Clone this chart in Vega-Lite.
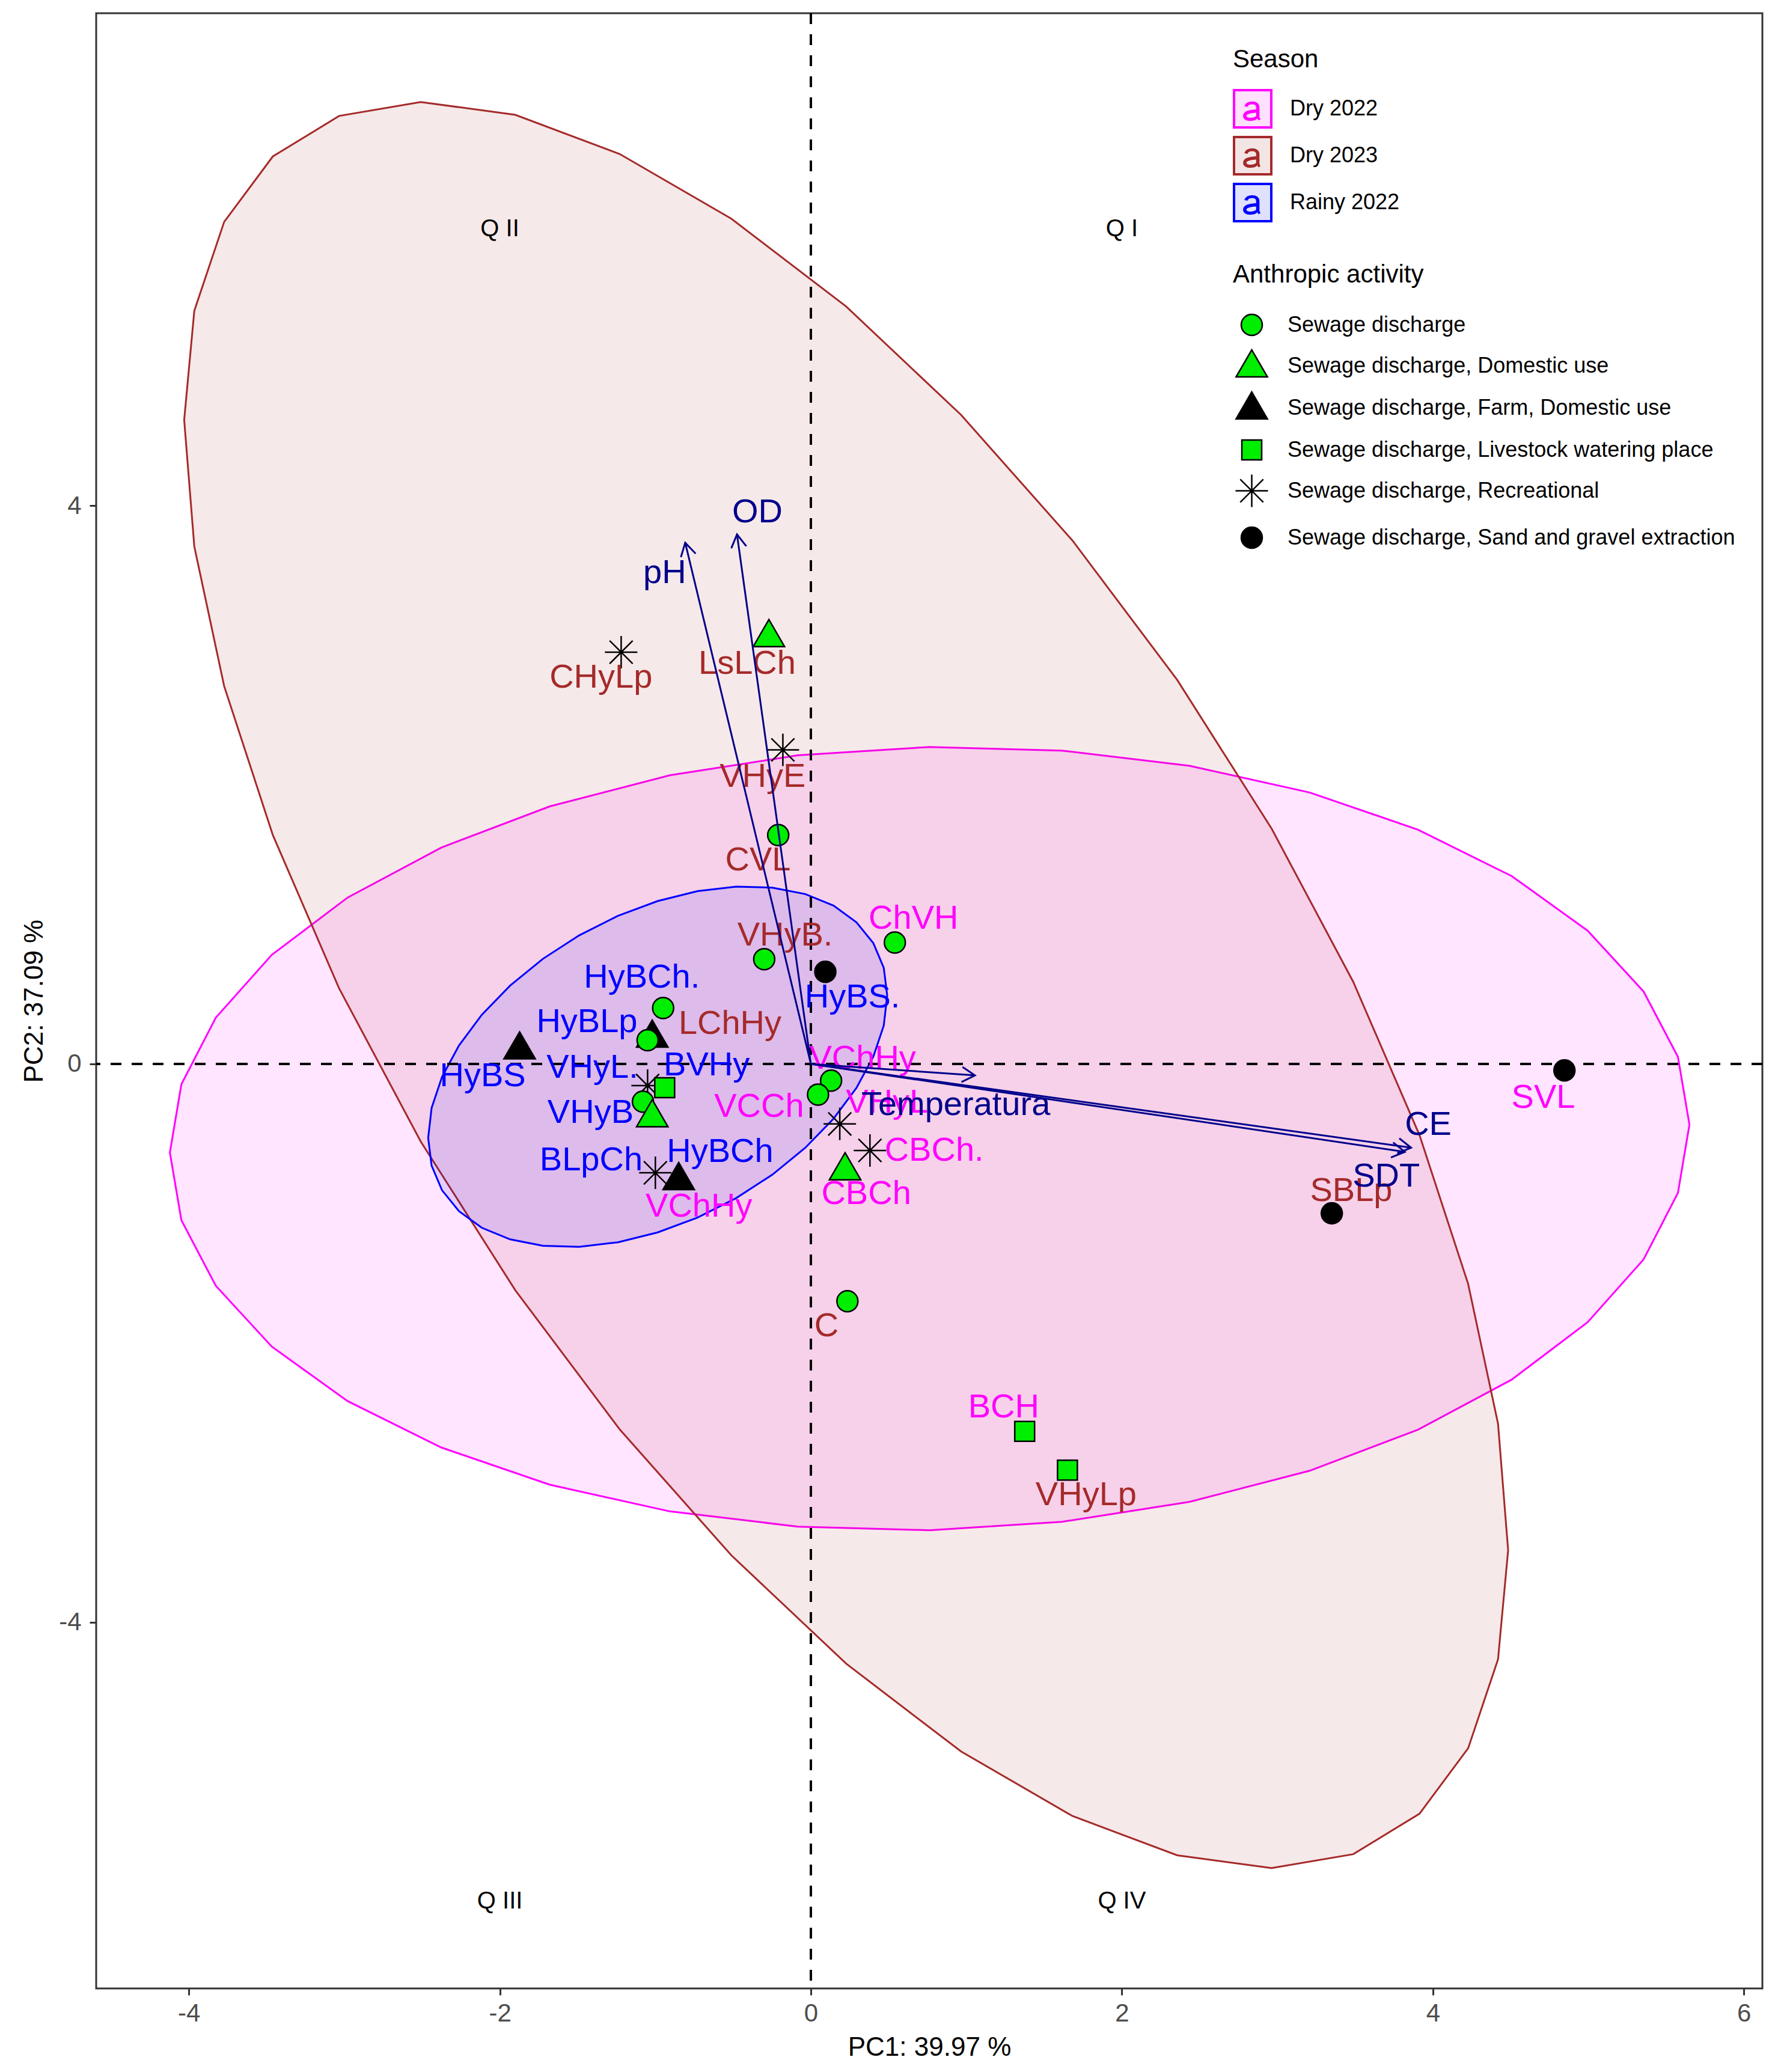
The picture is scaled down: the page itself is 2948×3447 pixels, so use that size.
{
  "$schema": "https://vega.github.io/schema/vega-lite/v6.json",
  "autosize": {"type": "none"},
  "width": 2772,
  "height": 3286,
  "padding": {"left": 160, "top": 22, "right": 16, "bottom": 139},
  "background": "white",
  "datasets": {
    "ellipses": [
      {"season":"Dry 2022","i":0,"x":5.650,"y":-0.435},{"season":"Dry 2022","i":1,"x":5.576,"y":0.050},{"season":"Dry 2022","i":2,"x":5.355,"y":0.519},{"season":"Dry 2022","i":3,"x":4.995,"y":0.955},{"season":"Dry 2022","i":4,"x":4.507,"y":1.346},{"season":"Dry 2022","i":5,"x":3.905,"y":1.678},{"season":"Dry 2022","i":6,"x":3.207,"y":1.945},{"season":"Dry 2022","i":7,"x":2.435,"y":2.136},{"season":"Dry 2022","i":8,"x":1.612,"y":2.245},{"season":"Dry 2022","i":9,"x":0.764,"y":2.271},{"season":"Dry 2022","i":10,"x":-0.084,"y":2.211},{"season":"Dry 2022","i":11,"x":-0.907,"y":2.068},{"season":"Dry 2022","i":12,"x":-1.679,"y":1.845},{"season":"Dry 2022","i":13,"x":-2.377,"y":1.550},{"season":"Dry 2022","i":14,"x":-2.979,"y":1.192},{"season":"Dry 2022","i":15,"x":-3.467,"y":0.781},{"season":"Dry 2022","i":16,"x":-3.827,"y":0.331},{"season":"Dry 2022","i":17,"x":-4.048,"y":-0.146},{"season":"Dry 2022","i":18,"x":-4.122,"y":-0.635},{"season":"Dry 2022","i":19,"x":-4.048,"y":-1.120},{"season":"Dry 2022","i":20,"x":-3.827,"y":-1.589},{"season":"Dry 2022","i":21,"x":-3.467,"y":-2.025},{"season":"Dry 2022","i":22,"x":-2.979,"y":-2.416},{"season":"Dry 2022","i":23,"x":-2.377,"y":-2.748},{"season":"Dry 2022","i":24,"x":-1.679,"y":-3.015},{"season":"Dry 2022","i":25,"x":-0.907,"y":-3.206},{"season":"Dry 2022","i":26,"x":-0.084,"y":-3.315},{"season":"Dry 2022","i":27,"x":0.764,"y":-3.341},{"season":"Dry 2022","i":28,"x":1.612,"y":-3.281},{"season":"Dry 2022","i":29,"x":2.435,"y":-3.138},{"season":"Dry 2022","i":30,"x":3.207,"y":-2.915},{"season":"Dry 2022","i":31,"x":3.905,"y":-2.620},{"season":"Dry 2022","i":32,"x":4.507,"y":-2.262},{"season":"Dry 2022","i":33,"x":4.995,"y":-1.851},{"season":"Dry 2022","i":34,"x":5.355,"y":-1.401},{"season":"Dry 2022","i":35,"x":5.576,"y":-0.924},{"season":"Dry 2022","i":36,"x":5.650,"y":-0.435},
      {"season":"Dry 2023","i":0,"x":4.484,"y":-3.484},{"season":"Dry 2023","i":1,"x":4.419,"y":-2.578},{"season":"Dry 2023","i":2,"x":4.227,"y":-1.577},{"season":"Dry 2023","i":3,"x":3.914,"y":-0.510},{"season":"Dry 2023","i":4,"x":3.488,"y":0.588},{"season":"Dry 2023","i":5,"x":2.963,"y":1.686},{"season":"Dry 2023","i":6,"x":2.356,"y":2.751},{"season":"Dry 2023","i":7,"x":1.683,"y":3.749},{"season":"Dry 2023","i":8,"x":0.966,"y":4.650},{"season":"Dry 2023","i":9,"x":0.227,"y":5.427},{"season":"Dry 2023","i":10,"x":-0.512,"y":6.056},{"season":"Dry 2023","i":11,"x":-1.229,"y":6.519},{"season":"Dry 2023","i":12,"x":-1.901,"y":6.800},{"season":"Dry 2023","i":13,"x":-2.509,"y":6.892},{"season":"Dry 2023","i":14,"x":-3.034,"y":6.792},{"season":"Dry 2023","i":15,"x":-3.460,"y":6.502},{"season":"Dry 2023","i":16,"x":-3.773,"y":6.033},{"season":"Dry 2023","i":17,"x":-3.965,"y":5.396},{"season":"Dry 2023","i":18,"x":-4.030,"y":4.614},{"season":"Dry 2023","i":19,"x":-3.965,"y":3.708},{"season":"Dry 2023","i":20,"x":-3.773,"y":2.707},{"season":"Dry 2023","i":21,"x":-3.460,"y":1.640},{"season":"Dry 2023","i":22,"x":-3.034,"y":0.542},{"season":"Dry 2023","i":23,"x":-2.509,"y":-0.556},{"season":"Dry 2023","i":24,"x":-1.901,"y":-1.621},{"season":"Dry 2023","i":25,"x":-1.229,"y":-2.619},{"season":"Dry 2023","i":26,"x":-0.512,"y":-3.520},{"season":"Dry 2023","i":27,"x":0.227,"y":-4.297},{"season":"Dry 2023","i":28,"x":0.966,"y":-4.926},{"season":"Dry 2023","i":29,"x":1.683,"y":-5.389},{"season":"Dry 2023","i":30,"x":2.356,"y":-5.670},{"season":"Dry 2023","i":31,"x":2.963,"y":-5.762},{"season":"Dry 2023","i":32,"x":3.488,"y":-5.662},{"season":"Dry 2023","i":33,"x":3.914,"y":-5.372},{"season":"Dry 2023","i":34,"x":4.227,"y":-4.903},{"season":"Dry 2023","i":35,"x":4.419,"y":-4.266},{"season":"Dry 2023","i":36,"x":4.484,"y":-3.484},
      {"season":"Rainy 2022","i":0,"x":0.491,"y":0.490},{"season":"Rainy 2022","i":1,"x":0.469,"y":0.688},{"season":"Rainy 2022","i":2,"x":0.402,"y":0.865},{"season":"Rainy 2022","i":3,"x":0.293,"y":1.015},{"season":"Rainy 2022","i":4,"x":0.146,"y":1.134},{"season":"Rainy 2022","i":5,"x":-0.036,"y":1.217},{"season":"Rainy 2022","i":6,"x":-0.247,"y":1.263},{"season":"Rainy 2022","i":7,"x":-0.480,"y":1.270},{"season":"Rainy 2022","i":8,"x":-0.729,"y":1.238},{"season":"Rainy 2022","i":9,"x":-0.985,"y":1.167},{"season":"Rainy 2022","i":10,"x":-1.241,"y":1.061},{"season":"Rainy 2022","i":11,"x":-1.490,"y":0.921},{"season":"Rainy 2022","i":12,"x":-1.723,"y":0.753},{"season":"Rainy 2022","i":13,"x":-1.934,"y":0.561},{"season":"Rainy 2022","i":14,"x":-2.116,"y":0.352},{"season":"Rainy 2022","i":15,"x":-2.263,"y":0.132},{"season":"Rainy 2022","i":16,"x":-2.372,"y":-0.093},{"season":"Rainy 2022","i":17,"x":-2.439,"y":-0.316},{"season":"Rainy 2022","i":18,"x":-2.461,"y":-0.530},{"season":"Rainy 2022","i":19,"x":-2.439,"y":-0.728},{"season":"Rainy 2022","i":20,"x":-2.372,"y":-0.905},{"season":"Rainy 2022","i":21,"x":-2.263,"y":-1.055},{"season":"Rainy 2022","i":22,"x":-2.116,"y":-1.174},{"season":"Rainy 2022","i":23,"x":-1.934,"y":-1.257},{"season":"Rainy 2022","i":24,"x":-1.723,"y":-1.303},{"season":"Rainy 2022","i":25,"x":-1.490,"y":-1.310},{"season":"Rainy 2022","i":26,"x":-1.241,"y":-1.278},{"season":"Rainy 2022","i":27,"x":-0.985,"y":-1.207},{"season":"Rainy 2022","i":28,"x":-0.729,"y":-1.101},{"season":"Rainy 2022","i":29,"x":-0.480,"y":-0.961},{"season":"Rainy 2022","i":30,"x":-0.247,"y":-0.793},{"season":"Rainy 2022","i":31,"x":-0.036,"y":-0.601},{"season":"Rainy 2022","i":32,"x":0.146,"y":-0.392},{"season":"Rainy 2022","i":33,"x":0.293,"y":-0.172},{"season":"Rainy 2022","i":34,"x":0.402,"y":0.053},{"season":"Rainy 2022","i":35,"x":0.469,"y":0.276},{"season":"Rainy 2022","i":36,"x":0.491,"y":0.490}
    ],
    "samples": [
      {"season":"Dry 2023","activity":"Sewage discharge, Recreational","lab":"CHyLp","x":-1.22,"y":2.95,"lx":-1.35,"ly":2.77},
      {"season":"Dry 2023","activity":"Sewage discharge, Domestic use","lab":"LsLCh","x":-0.27,"y":3.07,"lx":-0.41,"ly":2.87},
      {"season":"Dry 2023","activity":"Sewage discharge, Recreational","lab":"VHyE","x":-0.18,"y":2.25,"lx":-0.31,"ly":2.06},
      {"season":"Dry 2023","activity":"Sewage discharge","lab":"CVL","x":-0.21,"y":1.64,"lx":-0.34,"ly":1.46},
      {"season":"Dry 2023","activity":"Sewage discharge","lab":"VHyB.","x":-0.30,"y":0.75,"lx":-0.166,"ly":0.92},
      {"season":"Dry 2023","activity":"Sewage discharge, Farm, Domestic use","lab":"LChHy","x":-1.02,"y":0.20,"lx":-0.52,"ly":0.29},
      {"season":"Dry 2023","activity":"Sewage discharge, Sand and gravel extraction","lab":"SBLp","x":3.35,"y":-1.07,"lx":3.475,"ly":-0.91},
      {"season":"Dry 2023","activity":"Sewage discharge","lab":"C","x":0.235,"y":-1.70,"lx":0.10,"ly":-1.88},
      {"season":"Dry 2023","activity":"Sewage discharge, Livestock watering place","lab":"VHyLp","x":1.65,"y":-2.91,"lx":1.77,"ly":-3.09},
      {"season":"Dry 2022","activity":"Sewage discharge, Sand and gravel extraction","lab":"SVL","x":4.846,"y":-0.047,"lx":4.71,"ly":-0.24},
      {"season":"Dry 2022","activity":"Sewage discharge","lab":"ChVH","x":0.54,"y":0.87,"lx":0.66,"ly":1.04},
      {"season":"Dry 2022","activity":"Sewage discharge","lab":"VChHy","x":0.13,"y":-0.12,"lx":0.333,"ly":0.04},
      {"season":"Dry 2022","activity":"Sewage discharge","lab":"VCCh","x":0.046,"y":-0.22,"lx":-0.333,"ly":-0.306},
      {"season":"Dry 2022","activity":"Sewage discharge, Recreational","lab":"VHyL","x":0.186,"y":-0.43,"lx":0.49,"ly":-0.276},
      {"season":"Dry 2022","activity":"Sewage discharge, Recreational","lab":"CBCh.","x":0.38,"y":-0.62,"lx":0.793,"ly":-0.62},
      {"season":"Dry 2022","activity":"Sewage discharge, Domestic use","lab":"CBCh","x":0.22,"y":-0.75,"lx":0.356,"ly":-0.93},
      {"season":"Dry 2022","activity":"Sewage discharge, Farm, Domestic use","lab":"VChHy","x":-0.85,"y":-0.82,"lx":-0.72,"ly":-1.02},
      {"season":"Dry 2022","activity":"Sewage discharge, Livestock watering place","lab":"BCH","x":1.375,"y":-2.633,"lx":1.24,"ly":-2.46},
      {"season":"Rainy 2022","activity":"Sewage discharge, Farm, Domestic use","lab":"HyBS","x":-1.873,"y":0.116,"lx":-2.11,"ly":-0.086},
      {"season":"Rainy 2022","activity":"Sewage discharge","lab":"HyBCh.","x":-0.95,"y":0.40,"lx":-1.087,"ly":0.62},
      {"season":"Rainy 2022","activity":"Sewage discharge","lab":"HyBLp","x":-1.05,"y":0.17,"lx":-1.44,"ly":0.30},
      {"season":"Rainy 2022","activity":"Sewage discharge, Sand and gravel extraction","lab":"HyBS.","x":0.093,"y":0.66,"lx":0.267,"ly":0.478},
      {"season":"Rainy 2022","activity":"Sewage discharge, Recreational","lab":"VHyL.","x":-1.05,"y":-0.155,"lx":-1.405,"ly":-0.026},
      {"season":"Rainy 2022","activity":"Sewage discharge, Livestock watering place","lab":"BVHy","x":-0.94,"y":-0.17,"lx":-0.67,"ly":-0.01},
      {"season":"Rainy 2022","activity":"Sewage discharge","lab":"VHyB","x":-1.08,"y":-0.27,"lx":-1.417,"ly":-0.35},
      {"season":"Rainy 2022","activity":"Sewage discharge, Domestic use","lab":"HyBCh","x":-1.02,"y":-0.37,"lx":-0.584,"ly":-0.63},
      {"season":"Rainy 2022","activity":"Sewage discharge, Recreational","lab":"BLpCh","x":-1.0,"y":-0.78,"lx":-1.413,"ly":-0.69}
    ],
    "vars": [
      {"var":"pH","x":-0.808,"y":3.734,"lx":-0.94,"ly":3.52},
      {"var":"OD","x":-0.475,"y":3.794,"lx":-0.344,"ly":3.953},
      {"var":"Temperatura","x":1.055,"y":-0.082,"lx":0.932,"ly":-0.293},
      {"var":"CE","x":3.86,"y":-0.60,"lx":3.97,"ly":-0.436},
      {"var":"SDT","x":3.82,"y":-0.63,"lx":3.70,"ly":-0.805}
    ],
    "quadrants": [
      {"q":"Q II","x":-2.0,"y":5.98},
      {"q":"Q I","x":2.0,"y":5.98},
      {"q":"Q III","x":-2.0,"y":-6.0},
      {"q":"Q IV","x":2.0,"y":-6.0}
    ],
    "origin": [{"x": 0, "y": 0}]
  },
  "layer": [
    {
      "data": {"name": "ellipses"},
      "mark": {"type": "line", "strokeWidth": 3, "fillOpacity": 0.1, "strokeOpacity": 1},
      "encoding": {
        "x": {"field": "x", "type": "quantitative",
              "scale": {"domain": [-4.596, 6.119], "nice": false, "zero": false},
              "axis": {"title": "PC1: 39.97 %", "values": [-4, -2, 0, 2, 4, 6], "labelExpr": "'' + datum.value", "titlePadding": 14}},
        "y": {"field": "y", "type": "quantitative",
              "scale": {"domain": [-6.624, 7.528], "nice": false, "zero": false},
              "axis": {"title": "PC2: 37.09 %", "values": [-4, 0, 4], "labelExpr": "'' + datum.value", "titlePadding": 18, "labelPadding": 14}},
        "order": {"field": "i", "type": "quantitative"},
        "fill": {"field": "season", "type": "nominal",
                 "scale": {"domain": ["Dry 2022", "Dry 2023", "Rainy 2022"], "range": ["#FF00FF", "#A52A2A", "#0000FF"]},
                 "legend": {"title": "Season", "orient": "none", "legendX": 1891, "legendY": 57,
                            "symbolType": "M-1,-1L1,-1L1,1L-1,1Z M-0.38,-0.12C-0.32,-0.4 0.3,-0.42 0.3,-0.08L0.3,0.45L0.36,0.6M0.3,0.08C0,0.12 -0.45,0.12 -0.45,0.38C-0.45,0.66 0.1,0.66 0.3,0.4M-0.33,-0.12C-0.27,-0.36 0.25,-0.38 0.25,-0.08L0.25,0.45M0.25,0.13C0,0.16 -0.4,0.16 -0.4,0.38C-0.4,0.6 0.1,0.6 0.25,0.4",
                            "symbolSize": 3844, "rowPadding": 0, "titlePadding": 27, "labelOffset": 29,
                            "labelLimit": 1000, "titleLimit": 1000,
                            "encode": {"symbols": {"update": {
                              "fill": {"scale": "fill", "field": "value"},
                              "fillOpacity": {"value": 0.12},
                              "stroke": {"scale": "fill", "field": "value"},
                              "strokeWidth": {"value": 4},
                              "opacity": {"value": 1}
                            }}}}},
        "stroke": {"field": "season", "type": "nominal",
                   "scale": {"domain": ["Dry 2022", "Dry 2023", "Rainy 2022"], "range": ["#FF00FF", "#A52A2A", "#0000FF"]},
                   "legend": null}
      }
    },
    {
      "data": {"name": "origin"},
      "mark": {"type": "rule", "color": "black", "strokeWidth": 4, "strokeDash": [18, 17]},
      "encoding": {"y": {"field": "y", "type": "quantitative"}}
    },
    {
      "data": {"name": "origin"},
      "mark": {"type": "rule", "color": "black", "strokeWidth": 4, "strokeDash": [18, 17]},
      "encoding": {"x": {"field": "x", "type": "quantitative"}}
    },
    {
      "data": {"name": "samples"},
      "mark": {"type": "point", "filled": true, "size": 3600, "stroke": "black", "strokeWidth": 2.5, "opacity": 1},
      "encoding": {
        "x": {"field": "x", "type": "quantitative"},
        "y": {"field": "y", "type": "quantitative"},
        "color": {"field": "activity", "type": "nominal",
                  "scale": {"domain": ["Sewage discharge", "Sewage discharge, Domestic use", "Sewage discharge, Farm, Domestic use", "Sewage discharge, Livestock watering place", "Sewage discharge, Recreational", "Sewage discharge, Sand and gravel extraction"],
                            "range": ["#00EE00", "#00EE00", "#000000", "#00EE00", "#000000", "#000000"]},
                  "legend": {"title": "Anthropic activity", "orient": "none", "legendX": 1891, "legendY": 415, "symbolSize": 3600, "rowPadding": 14, "titlePadding": 30, "labelOffset": 28, "labelLimit": 1000, "titleLimit": 1000, "symbolStrokeColor": "black", "symbolStrokeWidth": 2.5, "symbolOpacity": 1,
                             "encode": {"symbols": {"update": {"stroke": {"value": "black"}, "strokeWidth": {"value": 2.5}, "opacity": {"value": 1}}}}}},
        "shape": {"field": "activity", "type": "nominal",
                  "scale": {"domain": ["Sewage discharge", "Sewage discharge, Domestic use", "Sewage discharge, Farm, Domestic use", "Sewage discharge, Livestock watering place", "Sewage discharge, Recreational", "Sewage discharge, Sand and gravel extraction"],
                            "range": ["M-0.583,0A0.583,0.583,0,1,0,0.583,0A0.583,0.583,0,1,0,-0.583,0Z", "M0,-0.88L0.87,0.62L-0.87,0.62Z", "M0,-0.88L0.87,0.62L-0.87,0.62Z", "M-0.55,-0.55L0.55,-0.55L0.55,0.55L-0.55,0.55Z", "M-0.9,0L0.9,0M0,-0.9L0,0.9M-0.64,-0.64L0.64,0.64M-0.64,0.64L0.64,-0.64", "M-0.583,0A0.583,0.583,0,1,0,0.583,0A0.583,0.583,0,1,0,-0.583,0Z"]},
                  "legend": {"title": "Anthropic activity", "orient": "none", "legendX": 1891, "legendY": 415, "symbolSize": 3600, "rowPadding": 14, "titlePadding": 30, "labelOffset": 28, "labelLimit": 1000, "titleLimit": 1000, "symbolStrokeColor": "black", "symbolStrokeWidth": 2.5, "symbolOpacity": 1,
                             "encode": {"symbols": {"update": {"stroke": {"value": "black"}, "strokeWidth": {"value": 2.5}, "opacity": {"value": 1}}}}}}
      }
    },
    {
      "data": {"name": "samples"},
      "mark": {"type": "text", "fontSize": 56, "font": "Liberation Sans", "align": "center", "baseline": "middle"},
      "encoding": {
        "x": {"field": "lx", "type": "quantitative"},
        "y": {"field": "ly", "type": "quantitative"},
        "text": {"field": "lab", "type": "nominal"},
        "fill": {"field": "season", "type": "nominal"}
      }
    },
    {
      "data": {"name": "vars"},
      "transform": [{"calculate": "0", "as": "x0"}, {"calculate": "0", "as": "y0"}],
      "mark": {"type": "rule", "color": "#00008B", "strokeWidth": 3},
      "encoding": {
        "x": {"field": "x0", "type": "quantitative"},
        "y": {"field": "y0", "type": "quantitative"},
        "x2": {"field": "x"},
        "y2": {"field": "y"}
      }
    },
    {
      "data": {"name": "vars"},
      "transform": [{"calculate": "atan2(datum.x * 258.7, datum.y * 232.2) * 180 / PI", "as": "ang"}],
      "mark": {"type": "point", "shape": "M-0.42,0.72L0,0L0.42,0.72", "size": 3600, "filled": false, "stroke": "#00008B", "strokeWidth": 3, "opacity": 1},
      "encoding": {
        "x": {"field": "x", "type": "quantitative"},
        "y": {"field": "y", "type": "quantitative"},
        "angle": {"field": "ang", "type": "quantitative", "scale": null}
      }
    },
    {
      "data": {"name": "vars"},
      "mark": {"type": "text", "fontSize": 56, "font": "Liberation Sans", "align": "center", "baseline": "middle", "color": "#00008B"},
      "encoding": {
        "x": {"field": "lx", "type": "quantitative"},
        "y": {"field": "ly", "type": "quantitative"},
        "text": {"field": "var", "type": "nominal"}
      }
    },
    {
      "data": {"name": "quadrants"},
      "mark": {"type": "text", "fontSize": 40, "font": "Liberation Sans", "align": "center", "baseline": "middle", "color": "black"},
      "encoding": {
        "x": {"field": "x", "type": "quantitative"},
        "y": {"field": "y", "type": "quantitative"},
        "text": {"field": "q", "type": "nominal"}
      }
    }
  ],
  "config": {
    "view": {"stroke": "#333333", "strokeWidth": 3},
    "font": "Liberation Sans",
    "axis": {"grid": false, "domain": false, "tickColor": "#333333", "tickWidth": 3, "tickSize": 11,
             "labelFontSize": 42, "labelColor": "#4D4D4D", "labelFont": "Liberation Sans", "labelPadding": 10,
             "titleFontSize": 44, "titleFont": "Liberation Sans", "titleFontWeight": "normal", "titleColor": "black"},
    "legend": {"titleFontSize": 42, "titleFontWeight": "normal", "titleColor": "black", "titleFont": "Liberation Sans",
               "labelFontSize": 36, "labelColor": "black", "labelFont": "Liberation Sans", "padding": 0, "offset": 0,
               "labelLimit": 1000, "titleLimit": 1000}
  }
}
